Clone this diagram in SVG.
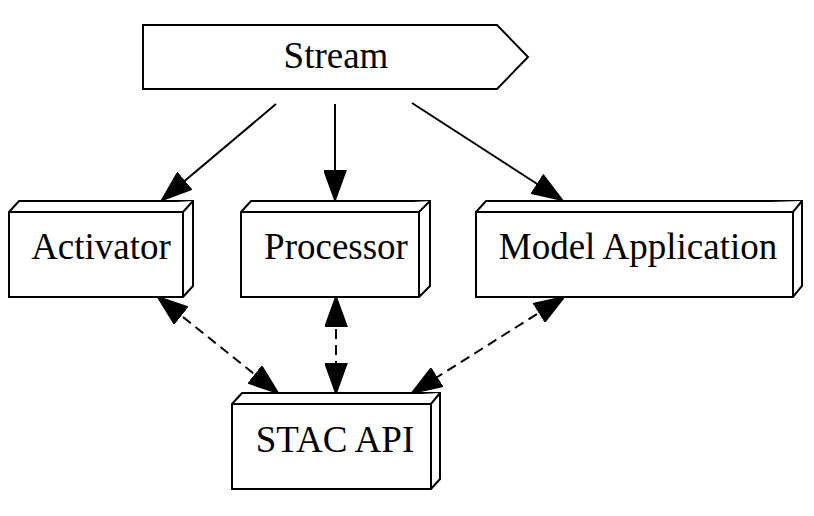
<svg xmlns="http://www.w3.org/2000/svg" width="814" height="516" viewBox="0 0 814 516">
<style>
.shape{fill:#fff;stroke:#000;stroke-width:2;stroke-linejoin:miter}
.lbl{font-family:"Liberation Serif","Times New Roman",serif;font-size:37px;fill:#000;text-anchor:middle}
.edge{fill:none;stroke:#000;stroke-width:2}
.dash{stroke-dasharray:10,6}
</style>
<defs>
<marker id="ah" markerUnits="userSpaceOnUse" markerWidth="31" markerHeight="23" viewBox="0 0 31 23" refX="30" refY="11.5" orient="auto-start-reverse">
<path d="M1,1 L30,11.5 L1,22 z" fill="#000" stroke="#000" stroke-width="2"/>
</marker>
</defs>
<rect width="814" height="516" fill="#fff"/>
<g id="edges">
<line class="edge" x1="276" y1="104" x2="162" y2="200" marker-end="url(#ah)"/>
<line class="edge" x1="335" y1="104" x2="335" y2="200" marker-end="url(#ah)"/>
<line class="edge" x1="412" y1="103" x2="562" y2="200" marker-end="url(#ah)"/>
<line class="edge dash" x1="158" y1="297" x2="278" y2="393" marker-start="url(#ah)" marker-end="url(#ah)"/>
<line class="edge dash" x1="336" y1="297" x2="336" y2="393" marker-start="url(#ah)" marker-end="url(#ah)"/>
<line class="edge dash" x1="564" y1="297" x2="412" y2="393" marker-start="url(#ah)" marker-end="url(#ah)"/>
</g>
<g id="stream">
<path class="shape" d="M143,25 L497,25 L528,57 L497,89 L143,89 z"/>
<text class="lbl" x="336" y="68">Stream</text>
</g>
<g id="activator">
<path class="shape" d="M9,212 L19,201 L193,201 L193,286 L183,297 L9,297 z"/>
<path class="shape" d="M9,212 L183,212 L193,201 M183,212 L183,297" fill="none"/>
<text class="lbl" x="101" y="259">Activator</text>
</g>
<g id="processor">
<path class="shape" d="M241,212 L251,201 L430,201 L430,286 L419,297 L241,297 z"/>
<path class="shape" d="M241,212 L419,212 L430,201 M419,212 L419,297" fill="none"/>
<text class="lbl" x="336" y="259">Processor</text>
</g>
<g id="model">
<path class="shape" d="M476,212 L486,201 L802,201 L802,286 L793,297 L476,297 z"/>
<path class="shape" d="M476,212 L793,212 L802,201 M793,212 L793,297" fill="none"/>
<text class="lbl" x="638" y="259">Model Application</text>
</g>
<g id="stac">
<path class="shape" d="M232,404 L242,393 L440,393 L440,479 L431,489 L232,489 z"/>
<path class="shape" d="M232,404 L431,404 L440,393 M431,404 L431,489" fill="none"/>
<text class="lbl" x="335" y="452">STAC API</text>
</g>
</svg>
